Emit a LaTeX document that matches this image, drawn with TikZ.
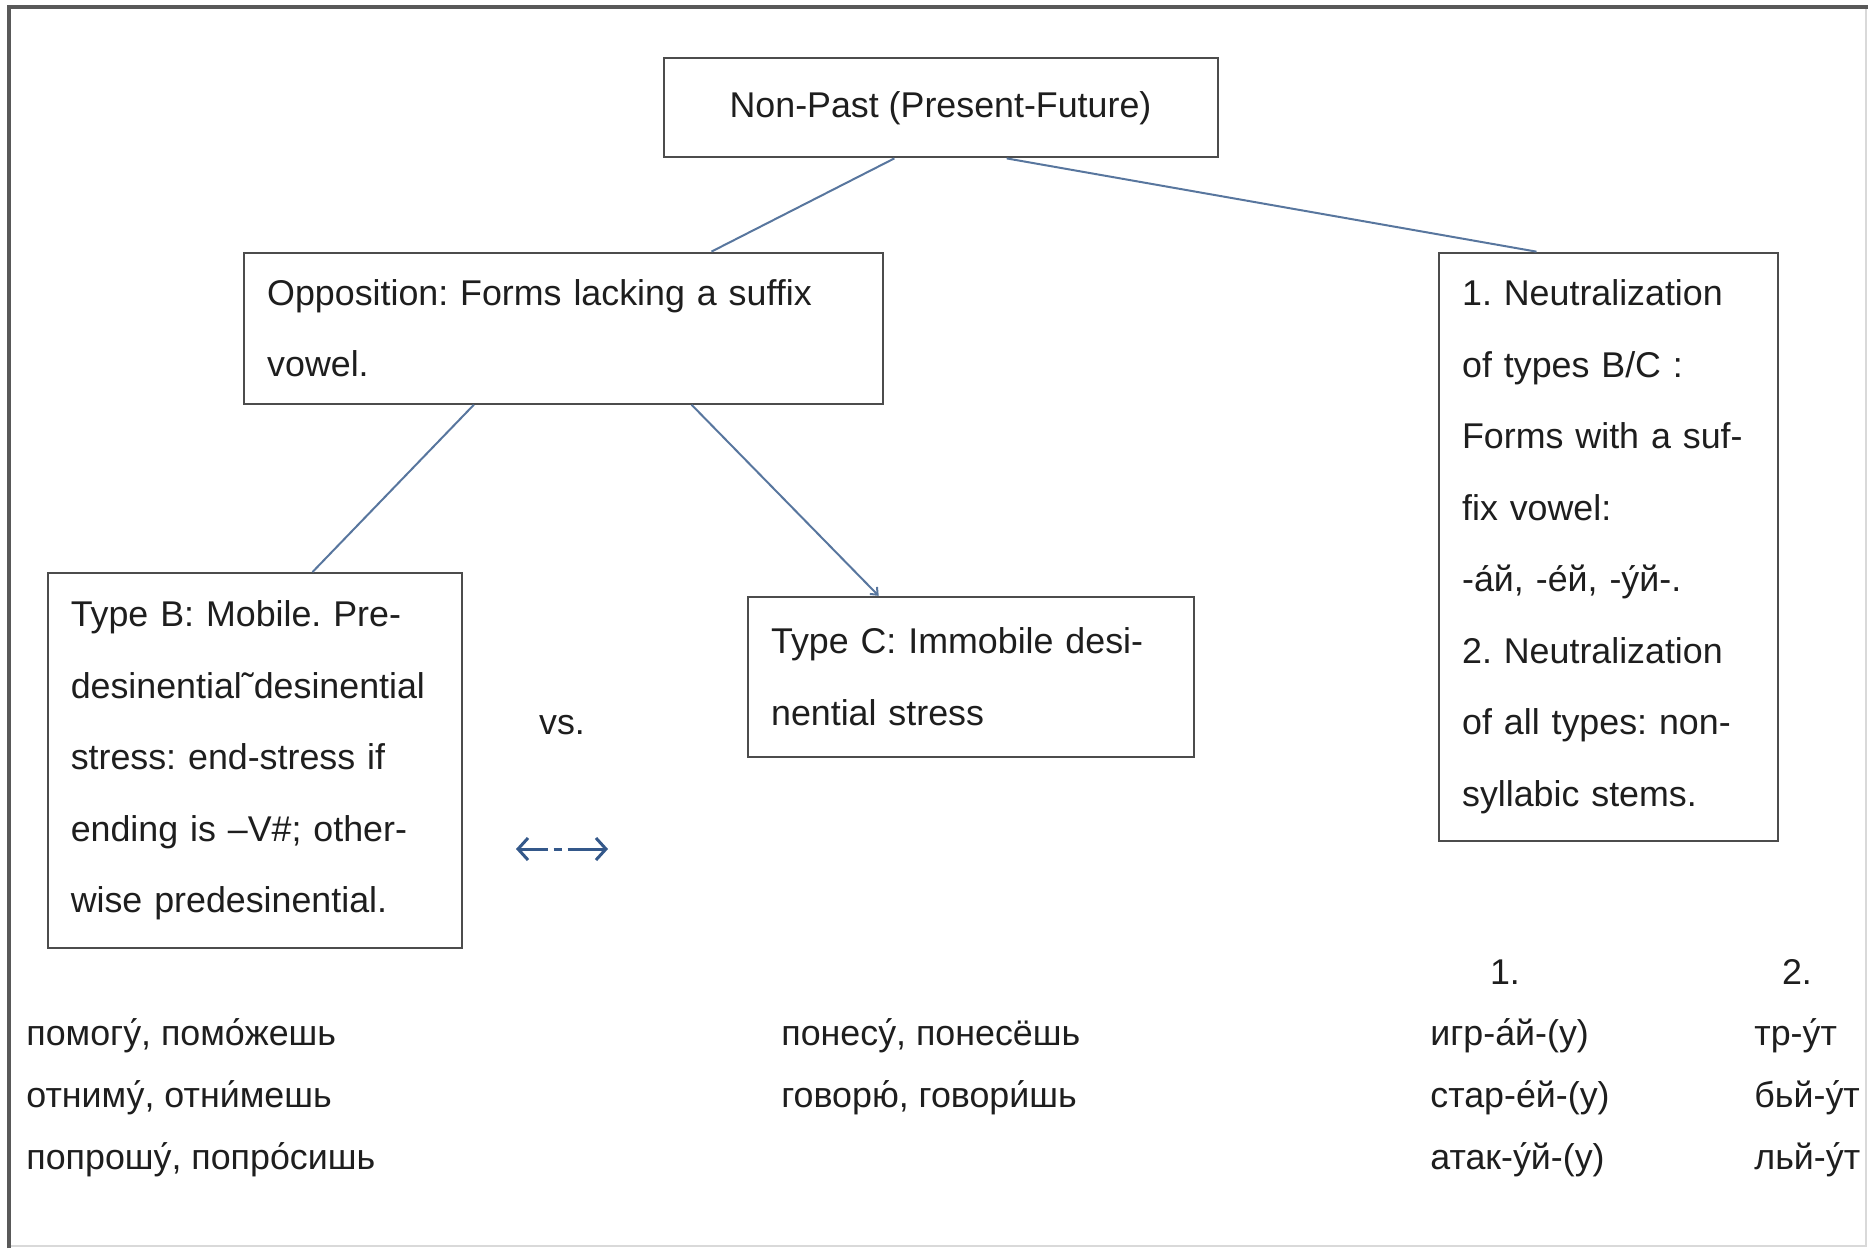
\documentclass[tikz,border=0pt]{standalone}
\usepackage{fontspec}
\setmainfont{Liberation Sans}
\usetikzlibrary{calc,positioning,arrows.meta}
\frenchspacing

\definecolor{linkblue}{RGB}{88,118,158}
\definecolor{arrblue}{RGB}{52,88,138}
\definecolor{ink}{RGB}{30,30,30}

\begin{document}
\begin{tikzpicture}[x=.5pt, y=-.5pt,
    every node/.style={font=\fontsize{17.9pt}{35.75pt}\selectfont, text=ink},
    box/.style={draw=black!70, line width=1pt, fill=white, inner xsep=11.5pt, inner ysep=0pt, align=left},
    link/.style={draw=linkblue, line width=1pt},
    word/.style={anchor=base west, inner sep=0pt}]
    \useasboundingbox (0,0) rectangle (1868,1248);
    % frame
    \draw[black!15, line width=.6pt] (1866,7) -- (1866,1246) -- (9,1246);
    \draw[black!65, line width=1.6pt] (9,1248) -- (9,7) -- (1868,7);

    % boxes
    \node[box, minimum width=277pt, minimum height=49.5pt, align=center] (root) at (940.5,107.9) {Non-Past (Present-Future)};
    \node[box, text width=296.3pt, minimum height=75.6pt] (opp) at (563.5,328.2)
        {Opposition: Forms lacking a suffix\\vowel.};
    \node[box, text width=146.2pt, minimum height=294.25pt] (neut) at (1608.3,546.9)
        {1. Neutralization\\of types B/C :\\Forms with a suf-\\fix vowel:\\-а́й, -е́й, -у́й-.\\2. Neutralization\\of all types: non-\\syllabic stems.};
    \node[box, text width=184.25pt, minimum height=187.65pt] (typeb) at (255,760.7)
        {Type B: Mobile. Pre-\\desinential\symbol{"02DC}desinential\\stress: end-stress if\\ending is –V\#; other-\\wise predesinential.};
    \node[box, text width=199.8pt, minimum height=79.85pt] (typec) at (970.9,676.7)
        {Type C: Immobile desi-\\nential stress};

    % connectors
    \draw[link] ($(root.south west)!.417!(root.south east)$) -- ($(opp.north west)!.731!(opp.north east)$);
    \draw[link] ($(root.south west)!.619!(root.south east)$) -- ($(neut.north west)!.289!(neut.north east)$);
    \draw[link] ($(opp.south west)!.36!(opp.south east)$) -- ($(typeb.north west)!.638!(typeb.north east)$);
    \draw[link, -{Straight Barb[length=3pt, width=5pt]}] ($(opp.south west)!.70!(opp.south east)$) -- ($(typec.north west)!.294!(typec.north east)$);

    % vs.
    \node[anchor=base, inner sep=0pt] (vs) at (562,734) {vs.};
    \coordinate (al) at (516,849);
    \coordinate (ar) at (608,849);
    \draw[arrblue, line width=1.5pt, dash pattern=on 14pt off 3pt on 4pt off 3pt on 30pt,
        {Straight Barb[length=5pt, width=11pt]}-{Straight Barb[length=5pt, width=11pt]}] (al) -- (ar);

    % examples
    \node[word] (b1) at (26,1045) {помогу́, помо́жешь};
    \node[word] (b2) at (26,1107) {отниму́, отни́мешь};
    \node[word] (b3) at (26,1169) {попрошу́, попро́сишь};
    \node[word] (c1) at (781,1045) {понесу́, понесёшь};
    \node[word] (c2) at (781,1107) {говорю́, говори́шь};
    \node[anchor=base, inner sep=0pt] (n1) at (1505,984) {1.};
    \node[anchor=base, inner sep=0pt] (n2) at (1797,984) {2.};
    \node[word] (d1) at (1430,1045) {игр-а́й-(у)};
    \node[word] (d2) at (1430,1107) {стар-е́й-(у)};
    \node[word] (d3) at (1430,1169) {атак-у́й-(у)};
    \node[word] (e1) at (1754,1045) {тр-у́т};
    \node[word] (e2) at (1754,1107) {бьй-у́т};
    \node[word] (e3) at (1754,1169) {льй-у́т};
\end{tikzpicture}
\end{document}
